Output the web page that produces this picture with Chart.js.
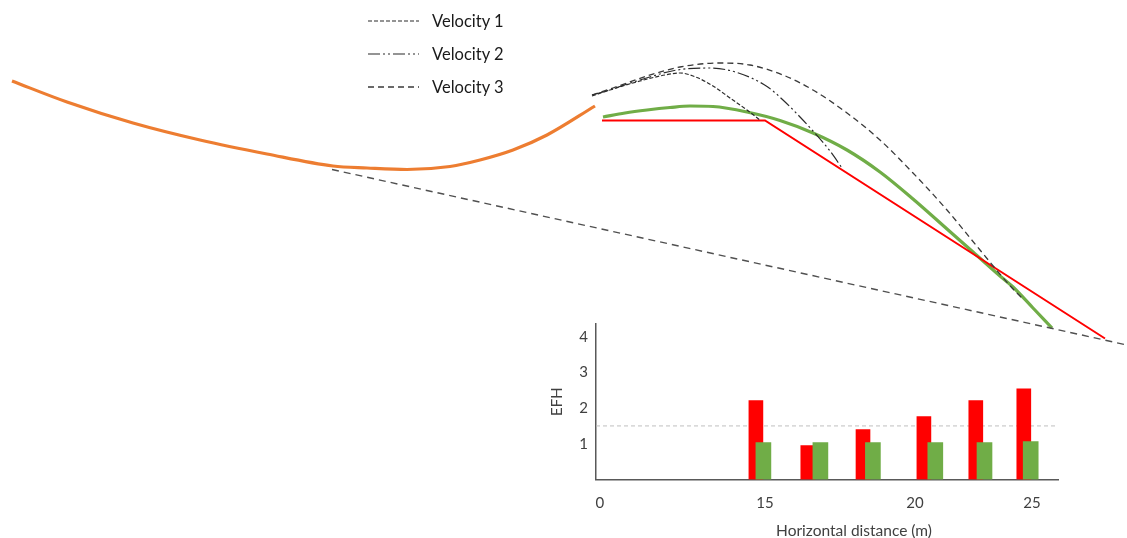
<!DOCTYPE html>
<html>
<head>
<meta charset="utf-8">
<script src="https://cdn.jsdelivr.net/npm/chart.js@4.4.1/dist/chart.umd.min.js"></script>
<style>
  html, body { margin: 0; padding: 0; width: 1127px; height: 538px; overflow: hidden; background: #ffffff; }
  #wrap { position: relative; width: 1127px; height: 538px; overflow: hidden; }
  #main { position: absolute; left: 0; top: 0; }
  #inset { position: absolute; left: 540px; top: 315px; }
  #legend { position: absolute; left: 366px; top: 4px; font-family: Lato, "Open Sans", sans-serif; font-size: 16.5px; color: #1a1a1a; }
  #legend .li { display: flex; align-items: center; height: 33px; }
  #legend svg { display: block; margin-right: 12px; }
</style>
</head>
<body>
<div id="wrap">
  <canvas id="main" width="1127" height="538"></canvas>
  <canvas id="inset" width="628" height="223"></canvas>
  <div id="legend"></div>
</div>
<script>
// ---------- Diagram data (diagram units) ----------
const inrunProfile = [[12,81],[67,102],[133,123],[200,140],[267,154],[333,166],[367,168],[407,169.5],[450,166.5],[480,160],[513,150],[547,135],[595,106]];
const landingMeasured = [[603,117],[625,113],[647,110],[670,107.5],[690,106],[713,106.5],[747,112],[780,120.5],[813,133],[847,150],[880,172],[913,199],[947,229],[973,252],[1000,276],[1013,287],[1033,308],[1052,328]];
const landingDesigned = [[602,120.5],[765,120.5],[1105,338.5]];
const groundLine = [[332,169.5],[1127,345]];
const velocity1Path = [[592,96],[610,90],[640,81],[665,75],[680,73],[697,77.5],[713,86],[730,98],[747,110],[760,120]];
const velocity2Path = [[592,95],[603,92],[640,80],[677,70],[710,68],[737,72.5],[767,86.5],[783,100],[813,131],[830,151],[842,168]];
const velocity3Path = [[592,95],[613,88],[647,76],[680,67],[720,63],[750,65],[783,75],[813,90],[847,113],[880,140],[913,173],[947,210],[980,250],[1013,289],[1022,298]];
const legendLabels = ['Velocity 1', 'Velocity 2', 'Velocity 3'];

// ---------- Inset (EFH) data ----------
const efhDistDesigned = [14.70, 16.43, 18.27, 20.30, 22.03, 23.63];
const efhDesigned     = [2.21, 0.95, 1.40, 1.76, 2.21, 2.54];
const efhDistMeasured = [14.95, 16.85, 18.60, 20.68, 22.32, 23.86];
const efhMeasured     = [1.03, 1.03, 1.03, 1.03, 1.03, 1.06];
const efhThreshold = 1.5;
const efhXTickLabels = ['0', '15', '20', '25'];
const efhXTickValues = [9.5, 15, 20, 23.9];
const efhYTickValues = [1, 2, 3, 4];
const efhXMin = 9.37, efhXMax = 24.77, efhYMax = 4.36;

const toXY = pts => pts.map(([x, y]) => ({ x, y }));
const FONT = 'Lato, "Open Sans", sans-serif';

const htmlLegendPlugin = {
  id: 'htmlLegend',
  afterUpdate(chart, args, opts) {
    const box = document.getElementById(opts.containerID);
    box.innerHTML = '';
    const ns = 'http://www.w3.org/2000/svg';
    chart.data.datasets.forEach(ds => {
      if (!ds.label) return;
      const row = document.createElement('div');
      row.className = 'li';
      const svg = document.createElementNS(ns, 'svg');
      svg.setAttribute('width', '54');
      svg.setAttribute('height', '6');
      const ln = document.createElementNS(ns, 'line');
      ln.setAttribute('x1', '2'); ln.setAttribute('y1', '3');
      ln.setAttribute('x2', '53'); ln.setAttribute('y2', '3');
      ln.setAttribute('stroke', ds.borderColor);
      ln.setAttribute('stroke-width', ds.borderWidth);
      if (ds.borderDash) ln.setAttribute('stroke-dasharray', ds.borderDash.join(' '));
      svg.appendChild(ln);
      const t = document.createElement('span');
      t.textContent = ds.label;
      row.appendChild(svg);
      row.appendChild(t);
      box.appendChild(row);
    });
  }
};

const lineDs = (data, color, width, dash, extra) => Object.assign({
  data: toXY(data), borderColor: color, borderWidth: width, borderDash: dash || [],
  pointRadius: 0, fill: false, clip: false, tension: 0
}, extra || {});

new Chart(document.getElementById('main'), {
  type: 'line',
  data: {
    datasets: [
      lineDs(velocity1Path, '#2b2b2b', 1.2, [4, 2], { label: legendLabels[0], cubicInterpolationMode: 'monotone' }),
      lineDs(velocity2Path, '#2b2b2b', 1.2, [12, 3, 2, 3, 2, 3], { label: legendLabels[1], cubicInterpolationMode: 'monotone' }),
      lineDs(velocity3Path, '#3a3a3a', 1.3, [6, 4], { label: legendLabels[2], cubicInterpolationMode: 'monotone' }),
      lineDs(groundLine, '#505050', 1.4, [7, 5]),
      lineDs(landingDesigned, '#FF0000', 2),
      lineDs(landingMeasured, '#70AD47', 3.2, [], { cubicInterpolationMode: 'monotone' }),
      lineDs(inrunProfile, '#ED7D31', 3.2, [], { cubicInterpolationMode: 'monotone' })
    ]
  },
  options: {
    responsive: false, animation: false, events: [],
    layout: { padding: 0 },
    scales: {
      x: { type: 'linear', min: 0, max: 1127, display: false },
      y: { type: 'linear', min: 0, max: 538, reverse: true, display: false }
    },
    plugins: { legend: { display: false }, tooltip: { enabled: false }, htmlLegend: { containerID: 'legend' } }
  },
  plugins: [htmlLegendPlugin]
});

const axisBorder = { display: true, color: '#595959', width: 1.5 };
new Chart(document.getElementById('inset'), {
  type: 'bar',
  data: {
    datasets: [
      { type: 'line', data: [{ x: efhXMin, y: efhThreshold }, { x: efhXMax, y: efhThreshold }],
        borderColor: '#BFBFBF', borderWidth: 1, borderDash: [4, 3], pointRadius: 0, order: 3 },
      { type: 'bar', data: efhDistDesigned.map((x, i) => ({ x, y: efhDesigned[i] })),
        backgroundColor: '#FF0000', barThickness: 14, grouped: false, order: 2 },
      { type: 'bar', data: efhDistMeasured.map((x, i) => ({ x, y: efhMeasured[i] })),
        backgroundColor: '#70AD47', barThickness: 15, grouped: false, order: 1 }
    ]
  },
  options: {
    responsive: false, animation: false, events: [],
    layout: { padding: { top: 9, left: 0, right: 0, bottom: 0 } },
    plugins: {
      legend: { display: false }, tooltip: { enabled: false },
      title: { display: true, position: 'bottom', text: 'Horizontal distance (m)', color: '#404040',
               font: { family: FONT, size: 15.5, weight: 'normal' }, padding: { top: 2, bottom: -2 } }
    },
    scales: {
      x: {
        type: 'linear', min: efhXMin, max: efhXMax, offset: false, z: 1,
        grid: { display: false, drawTicks: false }, border: axisBorder,
        afterBuildTicks(s) { s.ticks = efhXTickValues.map(v => ({ value: v })); },
        ticks: { autoSkip: false, maxRotation: 0, padding: 15, color: '#404040',
                 font: { family: FONT, size: 15 }, callback: (v, i) => efhXTickLabels[i] },
        afterFit(s) { s.height = 40; s.paddingLeft = 0; s.paddingRight = 0; }
      },
      y: {
        type: 'linear', min: 0, max: efhYMax, z: 1,
        grid: { display: false, drawTicks: false }, border: axisBorder,
        afterBuildTicks(s) { s.ticks = efhYTickValues.map(v => ({ value: v })); },
        ticks: { padding: 8, color: '#404040', font: { family: FONT, size: 15 } },
        title: { display: true, text: 'EFH', color: '#404040', font: { family: FONT, size: 15 }, padding: { top: 8, bottom: 0 } },
        afterFit(s) { s.width = 56; s.paddingTop = 0; s.paddingBottom = 0; }
      },
      y2: {
        type: 'linear', axis: 'y', position: 'right', display: true,
        grid: { display: false, drawTicks: false }, border: { display: false }, ticks: { display: false },
        afterFit(s) { s.width = 110; s.paddingTop = 0; s.paddingBottom = 0; }
      }
    }
  }
});
</script>
</body>
</html>
